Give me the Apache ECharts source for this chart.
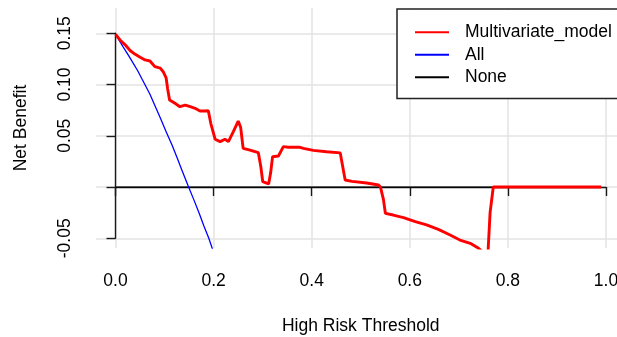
<!DOCTYPE html>
<html><head><meta charset="utf-8">
<script src="https://cdn.jsdelivr.net/npm/echarts@6/dist/echarts.min.js"></script>
<style>html,body{margin:0;padding:0;background:#fff}#c{width:617px;height:337px}</style>
</head><body><div id="c"></div>
<script>
// ---- data ----
const xTicks = [0, 0.2, 0.4, 0.6, 0.8, 1.0];
const yTicks = [-0.05, 0, 0.05, 0.10, 0.15];
const seriesNames = ['Multivariate_model', 'All', 'None'];

const modelThreshold = [0.000,0.009,0.019,0.030,0.040,0.050,0.060,0.070,0.080,0.091,0.097,0.103,0.106,0.110,0.112,0.121,0.131,0.142,0.152,0.162,0.172,0.182,0.189,0.194,0.203,0.213,0.223,0.230,0.240,0.250,0.255,0.260,0.274,0.291,0.296,0.300,0.312,0.316,0.320,0.332,0.342,0.352,0.376,0.383,0.403,0.430,0.458,0.468,0.482,0.512,0.536,0.540,0.546,0.550,0.566,0.587,0.611,0.634,0.658,0.682,0.702,0.723,0.740,0.750,0.759,0.7635,0.770,0.990];
const modelNetBenefit = [0.149,0.1435,0.139,0.133,0.1295,0.1266,0.124,0.123,0.1175,0.116,0.1125,0.1064,0.096,0.085,0.0833,0.0817,0.0784,0.080,0.0784,0.0768,0.0742,0.0742,0.0745,0.0622,0.0466,0.0443,0.0466,0.0443,0.054,0.0644,0.058,0.0378,0.0361,0.0335,0.020,0.0052,0.003,0.0136,0.0296,0.0303,0.0394,0.0388,0.0388,0.0378,0.0358,0.0345,0.0333,0.0069,0.0055,0.004,0.002,0.000,-0.012,-0.0256,-0.0273,-0.0299,-0.0338,-0.037,-0.0413,-0.0468,-0.0517,-0.0549,-0.0598,-0.064,-0.066,-0.025,0.000,0.000];

const allThreshold = [0.000,0.015,0.030,0.045,0.057,0.070,0.080,0.091,0.103,0.115,0.125,0.135,0.148,0.160,0.170,0.180,0.190,0.200];
const allNetBenefit = [0.149,0.137,0.1255,0.1135,0.1025,0.0905,0.0795,0.0675,0.054,0.041,0.029,0.0166,0.001,-0.013,-0.025,-0.038,-0.050,-0.064];

const noneThreshold = [0.000, 0.990];
const noneNetBenefit = [0, 0];

// ---- layout ----
const FONT = 'Liberation Sans';
const FS = 17.5;
const pairs = (xs, ys) => xs.map((x, i) => [x, ys[i]]);

const chart = echarts.init(document.getElementById('c'), null, {renderer: 'canvas'});
chart.setOption({
  animation: false,
  backgroundColor: '#ffffff',
  grid: [
    {left: 96, top: 8, width: 529.7, height: 240, containLabel: false, outerBoundsMode: 'none'},
    {left: 115.5, top: 33.3, width: 490.5, height: 205, containLabel: false, outerBoundsMode: 'none'}
  ],
  xAxis: [
    {gridIndex: 0, type: 'value', min: -0.04, max: 1.04,
     axisLine: {show: false}, axisLabel: {show: false, customValues: xTicks},
     axisTick: {show: false, customValues: xTicks},
     splitLine: {show: true, lineStyle: {color: '#e3e3e3', width: 1.5}}},
    {gridIndex: 1, type: 'value', min: 0, max: 1, interval: 0.2, offset: 9.7,
     axisLine: {show: true, lineStyle: {color: '#1a1a1a', width: 1.4}},
     axisTick: {show: true, length: 9, inside: false, lineStyle: {color: '#1a1a1a', width: 1.4}},
     axisLabel: {margin: 24, color: '#000', fontFamily: FONT, fontSize: FS,
       formatter: v => v.toFixed(1)},
     splitLine: {show: false},
     name: 'High Risk Threshold', nameLocation: 'middle', nameGap: 69.5,
     nameTextStyle: {color: '#000', fontFamily: FONT, fontSize: FS}}
  ],
  yAxis: [
    {gridIndex: 0, type: 'value', min: -0.05946, max: 0.17468,
     axisLine: {show: false}, axisLabel: {show: false, customValues: yTicks},
     axisTick: {show: false, customValues: yTicks},
     splitLine: {show: true, lineStyle: {color: '#e3e3e3', width: 1.5}},
     name: 'Net Benefit', nameLocation: 'middle', nameGap: 65.5,
     nameTextStyle: {color: '#000', fontFamily: FONT, fontSize: FS}},
    {gridIndex: 1, type: 'value', min: -0.05, max: 0.15, interval: 0.05, offset: 19.5,
     axisLine: {show: true, lineStyle: {color: '#1a1a1a', width: 1.4}},
     axisTick: {show: true, length: 9, inside: false, lineStyle: {color: '#1a1a1a', width: 1.4}},
     axisLabel: {margin: 22, rotate: 90, color: '#000', fontFamily: FONT, fontSize: FS,
       formatter: v => (Math.abs(v) < 1e-9 ? '' : v.toFixed(2))},
     splitLine: {show: false}}
  ],
  legend: {
    orient: 'vertical', left: 397, top: 9,
    padding: [12, 20, 10, 18],
    itemWidth: 34, itemHeight: 2, itemGap: 0,
    backgroundColor: '#ffffff', borderColor: '#222', borderWidth: 1.5, borderRadius: 0,
    icon: 'rect',
    textStyle: {fontFamily: FONT, fontSize: FS, color: '#000', lineHeight: 22.5, padding: [0, 0, 0, 11]},
    data: seriesNames
  },
  series: [
    {name: 'None', type: 'line', xAxisIndex: 0, yAxisIndex: 0, symbol: 'none',
     color: '#000000', lineStyle: {color: '#000000', width: 1.3}, data: pairs(noneThreshold, noneNetBenefit)},
    {name: 'All', type: 'line', xAxisIndex: 0, yAxisIndex: 0, symbol: 'none',
     color: '#0000ff', lineStyle: {color: '#0000ff', width: 1.3}, data: pairs(allThreshold, allNetBenefit)},
    {name: 'Multivariate_model', type: 'line', xAxisIndex: 0, yAxisIndex: 0, symbol: 'none',
     color: '#ff0000', lineStyle: {color: '#ff0000', width: 2.9}, data: pairs(modelThreshold, modelNetBenefit)}
  ]
});
</script>
</body></html>
